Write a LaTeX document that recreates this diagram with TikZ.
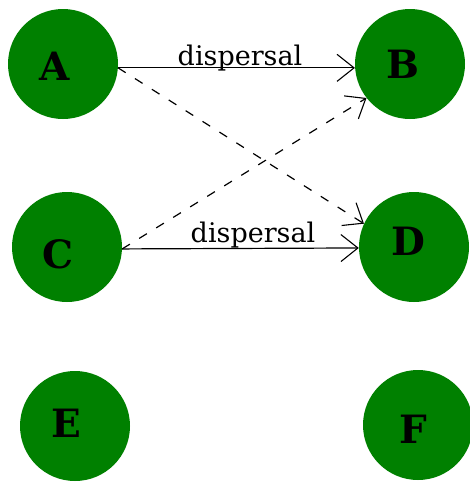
\documentclass[tikz,border=0pt]{standalone}
\usepackage{fontspec}
\setmainfont{DejaVu Serif}
\usetikzlibrary{arrows.meta}
\definecolor{nodegreen}{RGB}{0,128,0}
\tikzset{
  circ/.style={circle, fill=nodegreen, draw=none, minimum size=110pt, inner sep=0pt},
  letter/.style={font=\fontsize{39}{42}\selectfont\bfseries, inner sep=0pt},
  lab/.style={font=\fontsize{27}{30}\selectfont, inner sep=0pt, anchor=base},
  conn/.style={line width=1.2pt, -{Straight Barb[length=17pt,width=27pt,line width=1.1pt]}},
  dconn/.style={conn, dash pattern=on 9pt off 11pt}
}
\begin{document}
\begin{tikzpicture}[x=1pt,y=-1pt]
\useasboundingbox (0,0) rectangle (470,485);
\fill[white] (0,0) rectangle (470,485);
\node[circ] (A) at (63,64) {};
\node[circ] (B) at (410,64) {};
\node[circ] (C) at (67,247) {};
\node[circ] (D) at (414,247) {};
\node[circ] (E) at (75,426) {};
\node[circ] (F) at (418,425) {};
\node[letter] (Al) at (55,66) {A};
\node[letter] (Bl) at (403,64) {B};
\node[letter] (Cl) at (58,254) {C};
\node[letter] (Dl) at (408,241) {D};
\node[letter] (El) at (66,423) {E};
\node[letter] (Fl) at (413,429) {F};
\draw[conn] (A.-4) -- (B.184);
\draw[conn] (C.-2) -- (D.181);
\draw[dconn] (A.-4) -- (D.155);
\draw[dconn] (C.-2) -- (B.218);
\node[lab] (l1) at (240,65) {dispersal};
\node[lab] (l2) at (253,242) {dispersal};
\end{tikzpicture}
\end{document}
